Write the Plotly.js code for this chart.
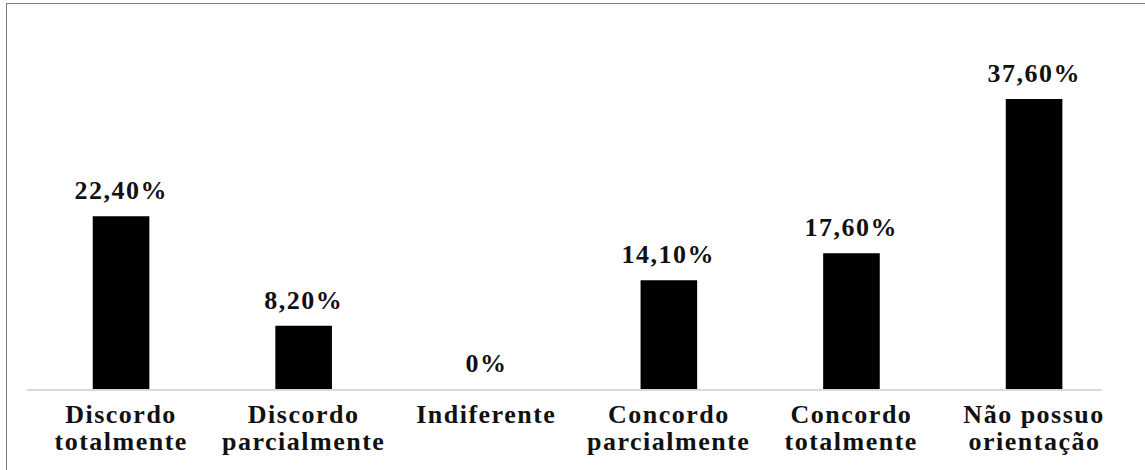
<!DOCTYPE html>
<html>
<head>
<meta charset="utf-8">
<script src="https://cdn.plot.ly/plotly-3.0.1.min.js"></script>
<style>
  html, body { margin: 0; padding: 0; background: #fff; }
  #wrap { position: relative; width: 1145px; height: 470px; overflow: hidden; }
  #chart { position: absolute; left: 0; top: 0; width: 1145px; height: 470px; }
  #frame { position: absolute; left: 6px; top: 3px; width: 1160px; height: 490px;
           border: 1px solid #7a7a7a; pointer-events: none; box-sizing: border-box; }
  #chart .xtick text, #chart .annotation-text { letter-spacing: 1.5px; }
</style>
</head>
<body>
<div id="wrap">
  <div id="chart"></div>
  <div id="frame"></div>
</div>
<script>
const categories = ["Discordo totalmente", "Discordo parcialmente", "Indiferente",
                    "Concordo parcialmente", "Concordo totalmente", "Não possuo orientação"];
const labelLine1 = ["Discordo", "Discordo", "Indiferente", "Concordo", "Concordo", "Não possuo"];
const labelLine2 = ["totalmente", "parcialmente", "", "parcialmente", "totalmente", "orientação"];
const values = [22.4, 8.2, 0, 14.1, 17.6, 37.6];
const valueLabels = ["22,40%", "8,20%", "0%", "14,10%", "17,60%", "37,60%"];

const serif = "Liberation Serif";
const textColor = "#111111";

const trace = {
  type: "bar",
  x: categories,
  y: values,
  marker: { color: "#000000", line: { width: 0 } },
  width: 0.31,
  hoverinfo: "skip"
};

const valueAnnotations = categories.map((c, i) => ({
  x: c, y: values[i], xref: "x", yref: "y",
  text: "<b>" + valueLabels[i] + "</b>", showarrow: false,
  yanchor: "bottom", yshift: 9,
  font: { family: serif, size: 26, color: textColor }
}));

const secondLineAnnotations = categories
  .map((c, i) => ({ c: c, t: labelLine2[i] }))
  .filter(d => d.t)
  .map(d => ({
    x: d.c, y: 0, xref: "x", yref: "paper",
    text: "<b>" + d.t + "</b>", showarrow: false,
    yanchor: "top", yshift: -37, borderpad: 0,
    font: { family: serif, size: 26, color: textColor }
  }));

const layout = {
  width: 1145, height: 470,
  margin: { l: 27, r: 43, t: 42, b: 81, pad: 0 },
  paper_bgcolor: "#ffffff", plot_bgcolor: "#ffffff",
  showlegend: false,
  font: { family: serif },
  xaxis: {
    type: "category",
    categoryorder: "array", categoryarray: categories,
    range: [-0.515, 5.372],
    tickvals: categories, ticktext: labelLine1.map(t => "<b>" + t + "</b>"),
    ticks: "", ticklabelstandoff: 1,
    showline: true, linecolor: "#d9d9d9", linewidth: 1.5,
    showgrid: false, zeroline: false,
    tickfont: { family: serif, size: 26, color: textColor }
  },
  yaxis: {
    range: [0, 45], visible: false, showgrid: false, zeroline: false
  },
  annotations: valueAnnotations.concat(secondLineAnnotations)
};

Plotly.newPlot("chart", [trace], layout, { staticPlot: true, displayModeBar: false });
</script>
</body>
</html>
